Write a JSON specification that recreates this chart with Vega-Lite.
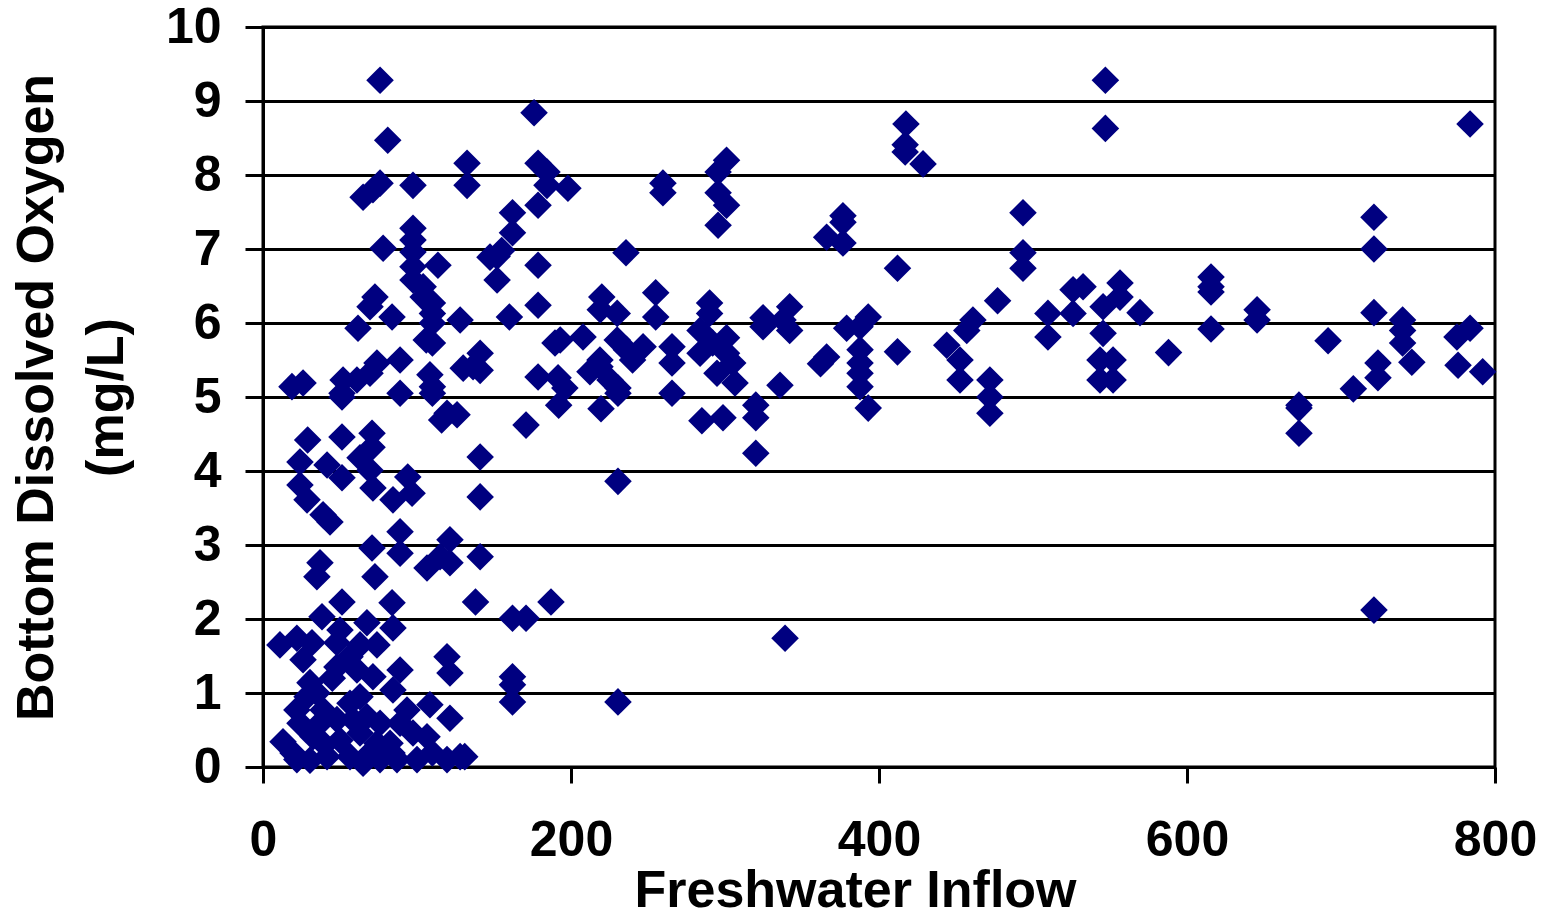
{
  "$schema": "https://vega.github.io/schema/vega-lite/v6.json",
  "width": 1232,
  "height": 740,
  "autosize": "none",
  "padding": {"left": 263, "top": 27, "right": 62, "bottom": 149},
  "background": "white",
  "config": {
    "view": {"stroke": "black", "strokeWidth": 3},
    "axis": {
      "labelFont": "Liberation Sans",
      "labelFontWeight": "bold",
      "labelColor": "black",
      "titleFont": "Liberation Sans",
      "titleFontWeight": "bold",
      "titleColor": "black",
      "domainColor": "black",
      "domainWidth": 3,
      "tickColor": "black",
      "tickWidth": 3
    }
  },
  "data": {
    "values": [
      {"inflow": 417.5, "do": 8.69}, {"inflow": 417, "do": 8.41}, {"inflow": 417, "do": 8.31}, {"inflow": 428.6, "do": 8.15},
      {"inflow": 547, "do": 9.28}, {"inflow": 547, "do": 8.63},
      {"inflow": 376.6, "do": 7.45}, {"inflow": 376.6, "do": 7.36}, {"inflow": 366, "do": 7.16}, {"inflow": 376.6, "do": 7.08},
      {"inflow": 412, "do": 6.74},
      {"inflow": 493.5, "do": 7.49}, {"inflow": 493.5, "do": 6.95}, {"inflow": 493.5, "do": 6.74},
      {"inflow": 477, "do": 6.30},
      {"inflow": 393, "do": 6.08}, {"inflow": 379, "do": 5.93}, {"inflow": 387.7, "do": 5.95}, {"inflow": 387.7, "do": 5.64}, {"inflow": 366, "do": 5.54}, {"inflow": 387.7, "do": 5.46}, {"inflow": 387.7, "do": 5.32}, {"inflow": 387.7, "do": 5.14}, {"inflow": 393, "do": 4.85}, {"inflow": 362, "do": 5.45},
      {"inflow": 412, "do": 5.61},
      {"inflow": 461, "do": 6.04}, {"inflow": 457, "do": 5.9}, {"inflow": 444, "do": 5.7}, {"inflow": 452.6, "do": 5.5}, {"inflow": 452.6, "do": 5.23}, {"inflow": 472, "do": 5.23}, {"inflow": 472, "do": 5.0}, {"inflow": 472, "do": 4.78},
      {"inflow": 509.7, "do": 6.13}, {"inflow": 509.7, "do": 5.81}, {"inflow": 526, "do": 6.45}, {"inflow": 526, "do": 6.13}, {"inflow": 532.5, "do": 6.49}, {"inflow": 545.5, "do": 6.22}, {"inflow": 556.5, "do": 6.54}, {"inflow": 556.5, "do": 6.35}, {"inflow": 569.5, "do": 6.14}, {"inflow": 545.5, "do": 5.86}, {"inflow": 543.5, "do": 5.5}, {"inflow": 552, "do": 5.5}, {"inflow": 543.5, "do": 5.23}, {"inflow": 552, "do": 5.23}, {"inflow": 588, "do": 5.6},
      {"inflow": 721.4, "do": 7.43}, {"inflow": 721.4, "do": 7.0}, {"inflow": 721.4, "do": 6.14}, {"inflow": 724, "do": 5.46}, {"inflow": 724, "do": 5.26}, {"inflow": 708, "do": 5.11}, {"inflow": 615.6, "do": 6.62}, {"inflow": 615.6, "do": 6.49}, {"inflow": 615.6, "do": 6.42}, {"inflow": 615.6, "do": 5.92}, {"inflow": 645.5, "do": 6.18}, {"inflow": 645.5, "do": 6.04}, {"inflow": 691.6, "do": 5.76}, {"inflow": 672.7, "do": 4.89}, {"inflow": 672.7, "do": 4.85}, {"inflow": 672.7, "do": 4.51}, {"inflow": 740, "do": 6.04}, {"inflow": 740, "do": 5.9}, {"inflow": 740, "do": 5.73}, {"inflow": 746, "do": 5.47}, {"inflow": 783.8, "do": 8.69}, {"inflow": 775.3, "do": 5.81}, {"inflow": 783.8, "do": 5.93}, {"inflow": 776, "do": 5.43}, {"inflow": 792, "do": 5.34}, {"inflow": 721.4, "do": 2.12},
      {"inflow": 176, "do": 8.84}, {"inflow": 178.6, "do": 8.16}, {"inflow": 184.4, "do": 8.04}, {"inflow": 184.4, "do": 7.86}, {"inflow": 198, "do": 7.82}, {"inflow": 178.6, "do": 7.59}, {"inflow": 162, "do": 7.49}, {"inflow": 162, "do": 7.22}, {"inflow": 155, "do": 6.98}, {"inflow": 152, "do": 6.9},
      {"inflow": 259.7, "do": 7.89}, {"inflow": 259.7, "do": 7.76},
      {"inflow": 301, "do": 8.2}, {"inflow": 295.5, "do": 8.04}, {"inflow": 295.5, "do": 7.76}, {"inflow": 301, "do": 7.59}, {"inflow": 295.5, "do": 7.32},
      {"inflow": 235.7, "do": 6.95},
      {"inflow": 178.6, "do": 6.78}, {"inflow": 178.6, "do": 6.24},
      {"inflow": 220, "do": 6.35}, {"inflow": 219, "do": 6.18}, {"inflow": 230, "do": 6.13}, {"inflow": 255, "do": 6.41}, {"inflow": 255, "do": 6.08},
      {"inflow": 290, "do": 6.27}, {"inflow": 290, "do": 6.13}, {"inflow": 283.8, "do": 5.9}, {"inflow": 301, "do": 5.8}, {"inflow": 342, "do": 6.22}, {"inflow": 337.7, "do": 6.04}, {"inflow": 342, "do": 5.9}, {"inflow": 324.7, "do": 6.07}, {"inflow": 324.7, "do": 5.95},
      {"inflow": 193, "do": 5.77}, {"inflow": 207.8, "do": 5.81}, {"inflow": 189.6, "do": 5.73}, {"inflow": 230, "do": 5.77}, {"inflow": 236, "do": 5.64}, {"inflow": 246.8, "do": 5.68}, {"inflow": 240, "do": 5.5}, {"inflow": 265.6, "do": 5.68}, {"inflow": 265.6, "do": 5.46}, {"inflow": 283.8, "do": 5.59}, {"inflow": 292, "do": 5.73}, {"inflow": 301, "do": 5.59}, {"inflow": 305, "do": 5.46}, {"inflow": 294.8, "do": 5.32}, {"inflow": 306.5, "do": 5.19},
      {"inflow": 335.7, "do": 5.16}, {"inflow": 178.6, "do": 5.27}, {"inflow": 191.6, "do": 5.26}, {"inflow": 196, "do": 5.12}, {"inflow": 212.3, "do": 5.34}, {"inflow": 218.8, "do": 5.41}, {"inflow": 225.3, "do": 5.23}, {"inflow": 230.5, "do": 5.12}, {"inflow": 218.8, "do": 5.5},
      {"inflow": 170.8, "do": 4.62}, {"inflow": 192, "do": 4.89}, {"inflow": 219.5, "do": 4.84}, {"inflow": 230.5, "do": 5.05}, {"inflow": 265.6, "do": 5.05}, {"inflow": 285, "do": 4.68}, {"inflow": 298.7, "do": 4.72}, {"inflow": 320, "do": 4.89}, {"inflow": 320, "do": 4.72}, {"inflow": 320, "do": 4.24}, {"inflow": 230.5, "do": 3.86},
      {"inflow": 162, "do": 2.01}, {"inflow": 170.8, "do": 2.01}, {"inflow": 187, "do": 2.23}, {"inflow": 339, "do": 1.74}, {"inflow": 162, "do": 1.22}, {"inflow": 162, "do": 1.11}, {"inflow": 162, "do": 0.88}, {"inflow": 230.5, "do": 0.88},
      {"inflow": 76, "do": 9.28}, {"inflow": 81, "do": 8.47}, {"inflow": 132.5, "do": 8.16}, {"inflow": 132.5, "do": 7.86}, {"inflow": 97.4, "do": 7.86}, {"inflow": 76, "do": 7.89}, {"inflow": 71.4, "do": 7.8}, {"inflow": 65, "do": 7.7},
      {"inflow": 97.4, "do": 7.28}, {"inflow": 97.4, "do": 7.12}, {"inflow": 97.4, "do": 6.96}, {"inflow": 78, "do": 7.01}, {"inflow": 113.6, "do": 6.78}, {"inflow": 97.4, "do": 6.76}, {"inflow": 97.4, "do": 6.58}, {"inflow": 147.4, "do": 6.89}, {"inflow": 152, "do": 6.58},
      {"inflow": 104, "do": 6.49}, {"inflow": 104, "do": 6.35}, {"inflow": 72.7, "do": 6.35}, {"inflow": 69.5, "do": 6.22}, {"inflow": 83.8, "do": 6.08}, {"inflow": 61.7, "do": 5.93}, {"inflow": 110, "do": 6.27}, {"inflow": 110, "do": 6.13}, {"inflow": 110, "do": 6.0}, {"inflow": 128, "do": 6.04}, {"inflow": 160, "do": 6.08}, {"inflow": 106, "do": 5.77},
      {"inflow": 141, "do": 5.59}, {"inflow": 136.4, "do": 5.41}, {"inflow": 141, "do": 5.36}, {"inflow": 130, "do": 5.39}, {"inflow": 110, "do": 5.73},
      {"inflow": 89, "do": 5.5}, {"inflow": 74, "do": 5.46}, {"inflow": 69.5, "do": 5.32}, {"inflow": 61, "do": 5.23}, {"inflow": 52, "do": 5.23}, {"inflow": 51.3, "do": 5.05}, {"inflow": 89, "do": 5.05}, {"inflow": 108.4, "do": 5.3}, {"inflow": 110, "do": 5.14}, {"inflow": 18.8, "do": 5.14}, {"inflow": 26, "do": 5.19},
      {"inflow": 51.3, "do": 5.0}, {"inflow": 110, "do": 5.05},
      {"inflow": 119.5, "do": 4.78}, {"inflow": 116, "do": 4.69}, {"inflow": 126, "do": 4.76},
      {"inflow": 29, "do": 4.42}, {"inflow": 51.3, "do": 4.46}, {"inflow": 70.8, "do": 4.51}, {"inflow": 70.8, "do": 4.32}, {"inflow": 24, "do": 4.12}, {"inflow": 41.6, "do": 4.08}, {"inflow": 63, "do": 4.18}, {"inflow": 69.5, "do": 4.01}, {"inflow": 51.3, "do": 3.91}, {"inflow": 71.4, "do": 3.77}, {"inflow": 24, "do": 3.81}, {"inflow": 94, "do": 3.92}, {"inflow": 96.8, "do": 3.7}, {"inflow": 141, "do": 4.19}, {"inflow": 141, "do": 3.65}, {"inflow": 84.4, "do": 3.61}, {"inflow": 28.6, "do": 3.61}, {"inflow": 39, "do": 3.41}, {"inflow": 43.5, "do": 3.31},
      {"inflow": 89, "do": 3.18}, {"inflow": 70.8, "do": 2.96}, {"inflow": 89, "do": 2.89}, {"inflow": 37, "do": 2.76}, {"inflow": 35, "do": 2.57}, {"inflow": 72.7, "do": 2.57}, {"inflow": 121.4, "do": 3.07}, {"inflow": 106.5, "do": 2.69}, {"inflow": 115, "do": 2.84}, {"inflow": 121.4, "do": 2.76}, {"inflow": 141, "do": 2.84}, {"inflow": 138, "do": 2.23}, {"inflow": 51.3, "do": 2.23}, {"inflow": 83.8, "do": 2.22}, {"inflow": 38.3, "do": 2.03},
      {"inflow": 11, "do": 1.65}, {"inflow": 22, "do": 1.74}, {"inflow": 31.8, "do": 1.68}, {"inflow": 50, "do": 1.85}, {"inflow": 67.5, "do": 1.95}, {"inflow": 84.4, "do": 1.88}, {"inflow": 48, "do": 1.68}, {"inflow": 63, "do": 1.65}, {"inflow": 74, "do": 1.65}, {"inflow": 56.5, "do": 1.49}, {"inflow": 48, "do": 1.35}, {"inflow": 61, "do": 1.31}, {"inflow": 71.4, "do": 1.22}, {"inflow": 89, "do": 1.31}, {"inflow": 119.5, "do": 1.49}, {"inflow": 121.4, "do": 1.27}, {"inflow": 26, "do": 1.45}, {"inflow": 30.5, "do": 1.14},
      {"inflow": 108.4, "do": 0.84}, {"inflow": 121.4, "do": 0.66}, {"inflow": 128, "do": 0.14}, {"inflow": 110, "do": 0.19}, {"inflow": 106.5, "do": 0.41}, {"inflow": 93.5, "do": 0.77}, {"inflow": 89, "do": 0.59}, {"inflow": 82.5, "do": 0.32}, {"inflow": 76, "do": 0.59}, {"inflow": 67.5, "do": 0.68}, {"inflow": 56.5, "do": 0.86}, {"inflow": 48, "do": 0.64}, {"inflow": 39, "do": 0.77}, {"inflow": 28.6, "do": 0.95}, {"inflow": 22, "do": 0.77}, {"inflow": 13, "do": 0.34}, {"inflow": 19.5, "do": 0.19}, {"inflow": 30.5, "do": 0.09}, {"inflow": 41.6, "do": 0.14}, {"inflow": 56.5, "do": 0.14}, {"inflow": 69.5, "do": 0.19}, {"inflow": 83.8, "do": 0.19}, {"inflow": 32.5, "do": 0.41}, {"inflow": 50, "do": 0.36}, {"inflow": 63, "do": 0.46}, {"inflow": 74, "do": 0.32}, {"inflow": 37, "do": 0.59}, {"inflow": 58.4, "do": 0.64}, {"inflow": 24, "do": 0.59}, {"inflow": 35, "do": 1.0}, {"inflow": 63, "do": 0.95}, {"inflow": 84.4, "do": 1.04}, {"inflow": 97.4, "do": 0.46}, {"inflow": 131, "do": 0.14}, {"inflow": 45, "do": 1.2}, {"inflow": 40, "do": 0.3}, {"inflow": 65, "do": 0.05}, {"inflow": 100, "do": 0.1},
      {"inflow": 22, "do": 0.1}, {"inflow": 76, "do": 0.1}, {"inflow": 87, "do": 0.1}, {"inflow": 119.5, "do": 0.1}
    ]
  },
  "mark": {"type": "point", "shape": "diamond", "filled": true, "size": 760, "color": "#000080", "opacity": 1},
  "encoding": {
    "x": {
      "field": "inflow",
      "type": "quantitative",
      "scale": {"domain": [0, 800], "nice": false, "zero": false},
      "axis": {
        "title": "Freshwater Inflow",
        "values": [0, 200, 400, 600, 800],
        "grid": false,
        "tickSize": 16,
        "labelFontSize": 50,
        "labelPadding": 32,
        "labelFlush": false,
        "labelOverlap": false,
        "titleFontSize": 52,
        "titleX": 592,
        "titleY": 98,
        "titleBaseline": "top",
        "titleAnchor": "middle"
      }
    },
    "y": {
      "field": "do",
      "type": "quantitative",
      "scale": {"domain": [0, 10], "nice": false, "zero": false},
      "axis": {
        "title": ["Bottom Dissolved Oxygen", "(mg/L)"],
        "values": [0, 1, 2, 3, 4, 5, 6, 7, 8, 9, 10],
        "grid": true,
        "gridColor": "black",
        "gridWidth": 3,
        "gridOpacity": 1,
        "tickSize": 18,
        "labelFontSize": 50,
        "labelPadding": 24,
        "labelFlush": false,
        "labelOverlap": false,
        "titleFontSize": 52,
        "titleLineHeight": 70,
        "titlePadding": 32
      }
    }
  }
}
